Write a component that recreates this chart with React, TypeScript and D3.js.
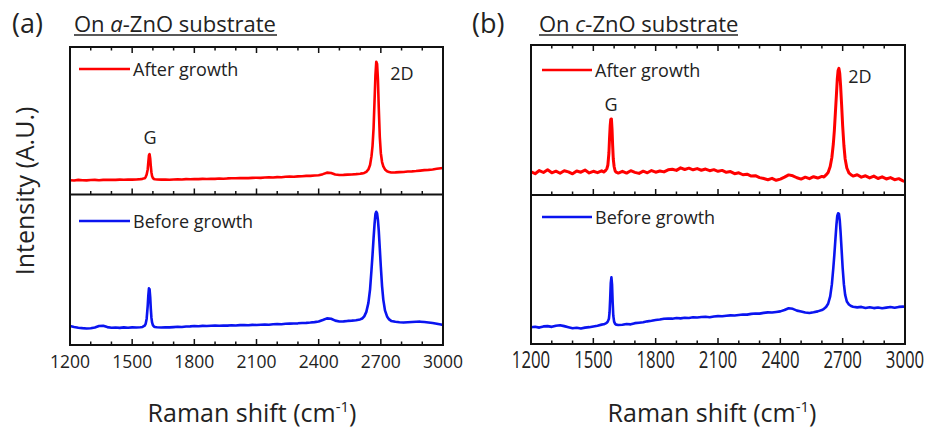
import React from "react";
import * as d3 from "d3";

// Raman shift grid (cm^-1), shared by every spectrum
const ramanShift = [
  1200, 1220, 1240, 1260, 1280, 1300, 1320, 1340, 1360, 1380, 1400, 1420, 1440, 1460, 1480, 1500, 1520, 1540,
  1550, 1560, 1565, 1570, 1575, 1578, 1581, 1584, 1587, 1590, 1593, 1596, 1600, 1605, 1610, 1620,
  1640, 1660, 1680, 1700, 1720, 1740, 1760, 1780, 1800, 1820, 1840, 1860, 1880, 1900, 1920, 1940, 1960, 1980,
  2000, 2020, 2040, 2060, 2080, 2100, 2120, 2140, 2160, 2180, 2200, 2220, 2240, 2260, 2280, 2300, 2320, 2340,
  2360, 2380, 2400, 2420, 2440, 2460, 2480, 2500, 2520, 2540, 2560, 2580, 2600,
  2610, 2620, 2630, 2640, 2648, 2655, 2660, 2665, 2670, 2674, 2678, 2682, 2686, 2690, 2695, 2700, 2706, 2712,
  2720, 2730, 2740, 2750,
  2770, 2790, 2810, 2830, 2850, 2870, 2890, 2910, 2930, 2950, 2970, 2990, 3000,
];

// (a) a-ZnO, after growth (arb. units, 0-100 within sub-plot)
const aZnOAfter = [
  9.7, 9.5, 9.9, 9.7, 9.6, 9.8, 9.9, 9.7, 9.9, 10.0, 9.9, 9.9, 10.1, 10.0, 10.2, 10.1, 10.2, 10.4,
  10.6, 11.0, 11.8, 13.5, 17, 22, 26.5, 27.4, 24.5, 19, 15, 12.5, 11.2, 10.5, 10.3, 10.2,
  10.1, 10.2, 10.0, 10.2, 10.3, 10.2, 10.4, 10.3, 10.5, 10.4, 10.6, 10.5, 10.7, 10.6, 10.8, 10.7, 10.9, 11.0,
  11.0, 11.1, 11.2, 11.1, 11.3, 11.4, 11.3, 11.5, 11.6, 11.5, 11.8, 11.7, 12.0, 12.1, 12.0, 12.3, 12.4, 12.6,
  12.6, 12.9, 13.1, 13.8, 14.8, 14.6, 13.6, 13.2, 13.3, 13.5, 13.6, 13.8, 14.1,
  14.3, 14.6, 15.4, 17, 20, 26, 33, 45, 65, 81, 90, 88.5, 78, 59, 39, 28, 22, 19,
  17, 15.8, 15.2, 14.9,
  15.0, 15.2, 15.3, 15.6, 15.7, 15.9, 16.2, 16.5, 16.7, 17.0, 17.4, 17.8, 18.0,
];

// (a) a-ZnO, before growth
const aZnOBefore = [
  12.6, 12.0, 11.5, 11.2, 11.0, 11.1, 11.6, 12.6, 12.8, 11.9, 11.5, 11.6, 11.4, 11.7, 11.5, 11.7, 11.6, 11.8,
  12.0, 12.8, 14, 17.5, 26, 33, 37.6, 37, 32, 24, 18, 15, 13.2, 12.3, 12, 11.8,
  11.6, 11.8, 11.7, 11.9, 12.1, 12.0, 12.3, 12.4, 12.6, 12.5, 12.7, 12.6, 12.8, 12.9, 12.8, 13.0, 12.9, 13.1,
  13.0, 13.2, 13.3, 13.1, 13.4, 13.3, 13.5, 13.6, 13.5, 13.8, 13.9, 13.8, 14.1, 14.2, 14.3, 14.4, 14.6, 14.7,
  14.9, 15.2, 15.6, 16.6, 17.7, 17.4, 16.2, 15.6, 15.7, 16.0, 16.2, 16.5, 17.0,
  17.6, 19, 22, 28, 37, 50, 60, 71, 81, 87, 88.5, 87.5, 83, 76, 64, 52, 39, 30,
  23, 19, 17, 16,
  15.4, 15.1, 14.9, 15.1, 15.3, 15.4, 15.5, 15.3, 15.0, 14.6, 14.1, 13.6, 13.3,
];

// (b) c-ZnO, after growth
const cZnOAfter = [
  15.5, 14.2, 16.3, 15.0, 16.8, 14.8, 15.9, 14.5, 16.2, 15.4, 14.1, 16.0, 15.2, 16.6, 14.7, 15.8, 14.9, 16.1,
  15.3, 16.5, 17.5, 20, 28, 38, 46, 50.5, 50.7, 44, 33, 24, 19, 16, 15.2, 14.6,
  15.8, 14.6, 16.2, 15.1, 14.4, 15.9, 14.8, 16.3, 15.2, 16.0, 15.4, 16.8, 17.2, 16.4, 18.1, 17.0, 17.9, 16.8,
  17.6, 16.5, 17.3, 16.2, 16.9, 15.8, 16.4, 15.1, 15.6, 14.2, 14.8, 13.5, 13.9, 12.6, 12.9, 11.6, 11.0, 10.2,
  11.1, 9.8, 10.6, 11.9, 13.4, 12.8, 11.5, 10.6, 11.9, 10.9, 12.2, 11.3, 12.4,
  12.0, 13.4, 15, 19, 25, 34, 43, 55, 67, 77, 83, 84.4, 81, 73, 60, 46, 33, 24,
  18, 14.8, 13.5, 12.6,
  13.5, 11.9, 12.8, 11.4, 12.6, 11.0, 12.1, 10.7, 11.6, 10.2, 10.9, 9.4, 9.0,
];

// (b) c-ZnO, before growth
const cZnOBefore = [
  11.2, 11.6, 11.0, 11.8, 12.0, 11.5, 12.3, 12.6, 12.0, 11.3, 10.6, 10.9, 10.4, 11.0, 11.3, 11.8, 12.3, 13.0,
  13.2, 13.9, 14.3, 15.2, 17, 21, 30, 41, 44.7, 40, 28, 19, 15, 13.5, 13.0, 12.8,
  12.9, 13.4, 13.2, 14.0, 14.3, 14.6, 15.2, 15.6, 16.1, 16.4, 16.9, 17.1, 17.0, 17.4, 17.2, 17.6, 17.5, 17.9,
  17.8, 18.1, 18.3, 18.0, 18.5, 18.7, 18.6, 19.0, 19.2, 19.1, 19.5, 19.8, 19.7, 20.2, 20.5, 20.4, 20.9, 21.2,
  21.1, 21.5, 21.9, 22.8, 24.0, 23.6, 22.4, 21.8, 21.2, 20.8, 21.3, 21.9, 22.8,
  23.6, 24.8, 27, 32, 40, 51, 60, 70, 80, 86, 87.7, 87.5, 83, 75, 63, 51, 40, 33,
  28.5, 26.5, 25.5, 25.0,
  24.6, 24.9, 24.2, 24.7, 24.1, 24.5, 24.0, 24.4, 24.8, 24.3, 24.9, 25.1, 25.0,
];

const xTickLabels = [1200, 1500, 1800, 2100, 2400, 2700, 3000];
const xMinorTicks = [1300, 1400, 1600, 1700, 1900, 2000, 2200, 2300, 2500, 2600, 2800, 2900];
const seriesNames = ["After growth", "Before growth"];
const peakNames = ["G", "2D"];

const FONT = "'Open Sans', 'DejaVu Sans', sans-serif";
const TXT = "#222";
const RED = "#ff0000";
const BLUE = "#0a14f0";

type Cfg = {
  tag: string;
  tagX: number;
  titleX: number;
  titleEnd: number;
  italic: string;
  after: number[];
  before: number[];
  left: number;
  right: number;
  top: number;
  mid: number;
  bottom: number;
  tickFont: number;
  tickScaleY: number;
  redWidth: number;
  legendLineX: [number, number];
  legendY: [number, number];
  gLabel: [number, number];
  dLabel: [number, number];
  xTitleX: number;
};

const panels: Cfg[] = [
  {
    tag: "(a)", tagX: 12, titleX: 74, titleEnd: 277, italic: "a",
    after: aZnOAfter, before: aZnOBefore,
    left: 70, right: 443, top: 47, mid: 194.5, bottom: 345,
    tickFont: 17.5, tickScaleY: 1, redWidth: 2.6,
    legendLineX: [79, 130], legendY: [69, 221],
    gLabel: [150, 144], dLabel: [402, 80], xTitleX: 252,
  },
  {
    tag: "(b)", tagX: 472, titleX: 539, titleEnd: 738, italic: "c",
    after: cZnOAfter, before: cZnOBefore,
    left: 531, right: 905, top: 45, mid: 195, bottom: 344,
    tickFont: 16.8, tickScaleY: 1.38, redWidth: 3,
    legendLineX: [542, 592], legendY: [70, 217],
    gLabel: [611, 111], dLabel: [860, 83], xTitleX: 712,
  },
];

function Panel({ c }: { c: Cfg }) {
  const x = d3.scaleLinear().domain([1200, 3000]).range([c.left, c.right]);
  const yTop = d3.scaleLinear().domain([0, 100]).range([c.mid, c.top]);
  const yBot = d3.scaleLinear().domain([0, 100]).range([c.bottom, c.mid]);
  const lineTop = d3.line<number>().x((_, i) => x(ramanShift[i])).y((d) => yTop(d));
  const lineBot = d3.line<number>().x((_, i) => x(ramanShift[i])).y((d) => yBot(d));
  const majorLen = 6;
  const minorLen = 3.5;
  const ticks = [
    ...xTickLabels.filter((t) => t > 1200 && t < 3000).map((t) => ({ t, len: majorLen })),
    ...xMinorTicks.map((t) => ({ t, len: minorLen })),
  ];
  return (
    <g>
      <text x={c.tagX} y={33} fontSize={27} fill={TXT} fontFamily={FONT}>{c.tag}</text>
      <text x={c.titleX} y={32} fontSize={22} fill={TXT} fontFamily={FONT}>
        On <tspan fontStyle="italic">{c.italic}</tspan>-ZnO substrate
      </text>
      <line x1={c.titleX} x2={c.titleEnd} y1={35} y2={35} stroke={TXT} strokeWidth={1.4} />

      <path d={lineTop(c.after) || ""} fill="none" stroke={RED} strokeWidth={c.redWidth} strokeLinejoin="round" />
      <path d={lineBot(c.before) || ""} fill="none" stroke={BLUE} strokeWidth={2.6} strokeLinejoin="round" />

      <rect x={c.left} y={c.top} width={c.right - c.left} height={c.bottom - c.top} fill="none" stroke="#111" strokeWidth={2} />
      <line x1={c.left} x2={c.right} y1={c.mid} y2={c.mid} stroke="#111" strokeWidth={2} />

      {ticks.map(({ t, len }) => (
        <g key={t}>
          <line x1={x(t)} x2={x(t)} y1={c.top} y2={c.top + len} stroke="#111" strokeWidth={1.5} />
          <line x1={x(t)} x2={x(t)} y1={c.mid} y2={c.mid - len} stroke="#111" strokeWidth={1.5} />
          <line x1={x(t)} x2={x(t)} y1={c.bottom} y2={c.bottom - len} stroke="#111" strokeWidth={1.5} />
        </g>
      ))}
      {xTickLabels.map((t) => (
        <text
          key={t}
          transform={`translate(${x(t)},368) scale(1,${c.tickScaleY})`}
          textAnchor="middle"
          fontSize={c.tickFont}
          fill={TXT}
          fontFamily={FONT}
        >
          {t}
        </text>
      ))}

      {[RED, BLUE].map((col, i) => (
        <g key={col}>
          <line x1={c.legendLineX[0]} x2={c.legendLineX[1]} y1={c.legendY[i]} y2={c.legendY[i]} stroke={col} strokeWidth={2.4} />
          <text x={c.legendLineX[1] + 3} y={c.legendY[i] + 6.5} fontSize={18} fill={TXT} fontFamily={FONT}>
            {seriesNames[i]}
          </text>
        </g>
      ))}

      <text x={c.gLabel[0]} y={c.gLabel[1]} textAnchor="middle" fontSize={18} fill={TXT} fontFamily={FONT}>{peakNames[0]}</text>
      <text x={c.dLabel[0]} y={c.dLabel[1]} textAnchor="middle" fontSize={18} fill={TXT} fontFamily={FONT}>{peakNames[1]}</text>

      <text x={c.xTitleX} y={422} textAnchor="middle" fontSize={25} fill={TXT} fontFamily={FONT}>
        Raman shift (cm<tspan fontSize={15} dy={-10}>-1</tspan><tspan dy={10}>)</tspan>
      </text>
    </g>
  );
}

export default function App() {
  return (
    <svg
      width={938}
      height={432}
      viewBox="0 0 938 432"
      style={{ position: "absolute", left: 0, top: 0, background: "#fff" }}
    >
      <rect width={938} height={432} fill="#fff" />
      {panels.map((p) => (
        <Panel key={p.tag} c={p} />
      ))}
      <text
        transform="translate(33.5,191) rotate(-90)"
        textAnchor="middle"
        fontSize={25}
        fill={TXT}
        fontFamily={FONT}
      >
        Intensity (A.U.)
      </text>
    </svg>
  );
}
